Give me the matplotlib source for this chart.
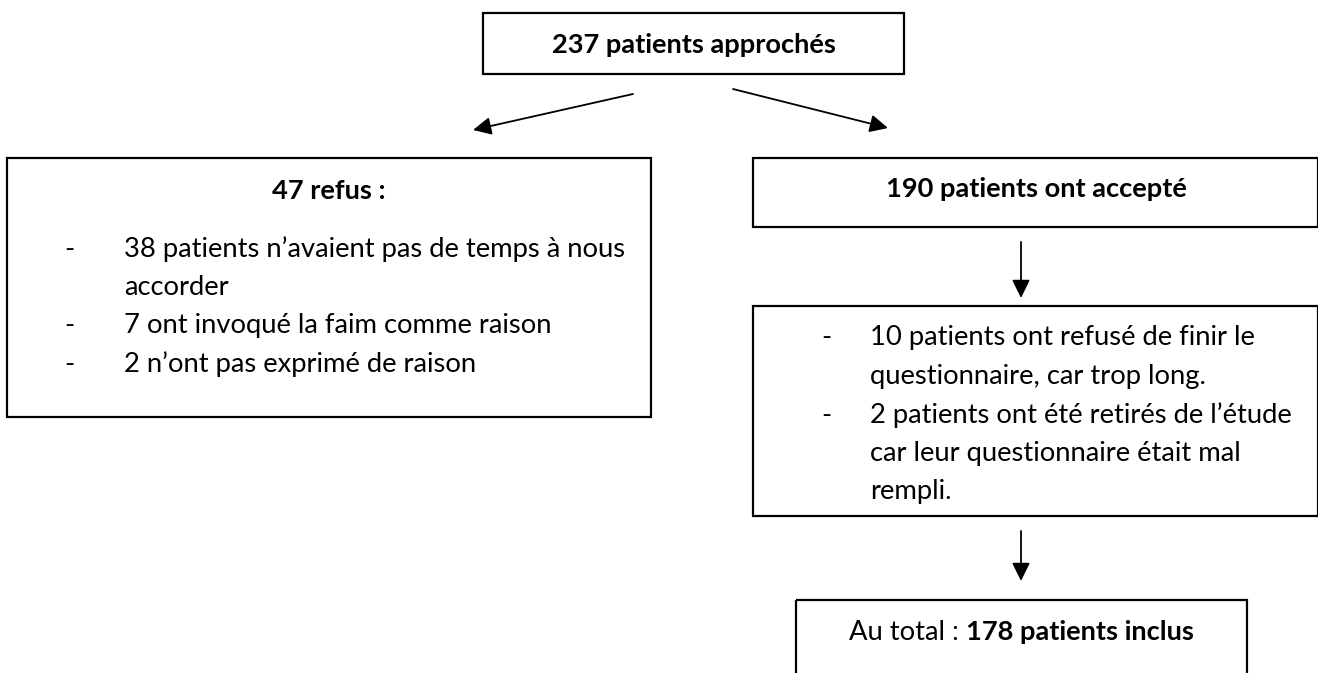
import matplotlib
matplotlib.use("Agg")
import matplotlib.pyplot as plt
from matplotlib.patches import Rectangle

# ---- content ----
top_label = "237 patients approchés"
refus_title = "47 refus :"
refus_items = ["38 patients n’avaient pas de temps à nous\naccorder",
               "7 ont invoqué la faim comme raison",
               "2 n’ont pas exprimé de raison"]
accept_label = "190 patients ont accepté"
excl_items = ["10 patients ont refusé de finir le\nquestionnaire, car trop long.",
              "2 patients ont été retirés de l’étude\ncar leur questionnaire était mal\nrempli."]
total_prefix = "Au total : "
total_bold = "178 patients inclus"

W, H = 1318, 673
fig = plt.figure(figsize=(W / 100, H / 100), dpi=100)
ax = fig.add_axes([0, 0, 1, 1])
ax.set_xlim(0, W)
ax.set_ylim(H, 0)
ax.axis("off")

FONT = "Lato"
FS = 19.7
FSB = 19.6
LINE = 38.5
LW = 1.6

def box(x0, y0, x1, y1):
    ax.add_patch(Rectangle((x0, y0), x1 - x0, y1 - y0, fill=False,
                           edgecolor="black", lw=LW, zorder=2))

def arrow(p0, p1):
    ax.annotate("", xy=p1, xytext=p0,
                arrowprops=dict(arrowstyle="-|>,head_length=0.55,head_width=0.27",
                                color="black", lw=1.3, mutation_scale=20,
                                shrinkA=0, shrinkB=0))

def bullets(items, xdash, xtext, ystart):
    y = ystart
    for it in items:
        ax.text(xdash, y, "-", fontsize=FS, family=FONT, ha="left", va="center")
        for ln in it.split("\n"):
            ax.text(xtext, y, ln, fontsize=FS, family=FONT, ha="left", va="center")
            y += LINE
    return y

# top box
box(483, 13, 904, 74)
ax.text(693.5, 45, top_label, fontsize=FSB, family=FONT, weight="bold",
        ha="center", va="center")

# diagonal arrows
arrow((633, 94), (473, 130))
arrow((733, 89), (888, 128))

# left box
box(7, 158, 651, 417)
ax.text(329, 191, refus_title, fontsize=FSB, family=FONT, weight="bold",
        ha="center", va="center")
bullets(refus_items, 64, 124, 249)

# right box 1
box(753, 158, 1318, 227)
ax.text(1036, 189, accept_label, fontsize=FSB, family=FONT, weight="bold",
        ha="center", va="center")

arrow((1021, 242), (1021, 298))

# right box 2
box(753, 306, 1318, 516)
bullets(excl_items, 821, 870, 338)

arrow((1021, 531), (1021, 581))

# bottom box
box(796, 600, 1247, 700)
t1 = ax.text(0, 0, total_prefix, fontsize=FS, family=FONT)
t2 = ax.text(0, 0, total_bold, fontsize=FSB, family=FONT, weight="bold")
r = fig.canvas.get_renderer()
w1 = t1.get_window_extent(r).width
w2 = t2.get_window_extent(r).width
t1.remove(); t2.remove()
xc = 1021.5
xs = xc - (w1 + w2) / 2
ax.text(xs, 632, total_prefix, fontsize=FS, family=FONT, ha="left", va="center")
ax.text(xs + w1, 632, total_bold, fontsize=FSB, family=FONT, weight="bold",
        ha="left", va="center")

fig.savefig("out.png", dpi=100)
